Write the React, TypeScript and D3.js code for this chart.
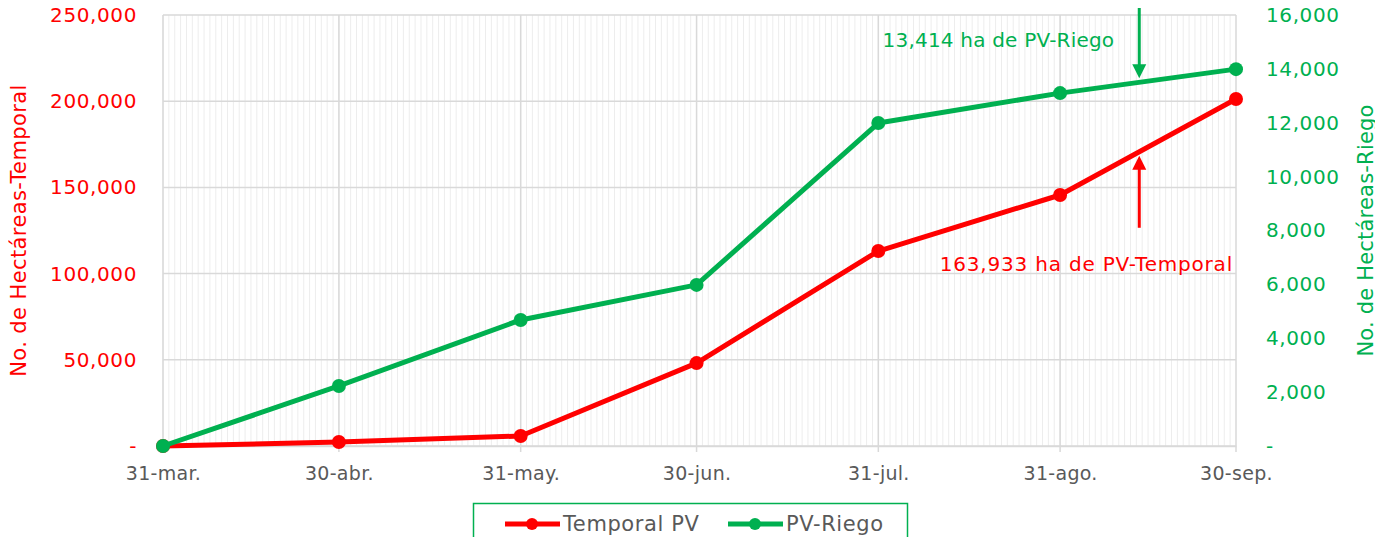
import { useRef, useEffect } from 'react'
import * as d3 from 'd3'

const W = 1383
const H = 545
const MARGIN = { top: 15, right: 147, bottom: 99, left: 163 }

const RED = '#ff0000'
const GREEN = '#00b050'
const GRAY_TEXT = '#595959'
const FONT = '"DejaVu Sans", sans-serif'

const DATES = ['2021-03-31', '2021-04-30', '2021-05-31', '2021-06-30', '2021-07-31', '2021-08-31', '2021-09-30']
const TICK_LABELS = ['31-mar.', '30-abr.', '31-may.', '30-jun.', '31-jul.', '31-ago.', '30-sep.']
const TEMPORAL = [0, 2300, 5800, 48100, 113100, 145600, 201300]
const RIEGO = [0, 2230, 4680, 5980, 11990, 13100, 13990]
const LEFT_TICKS = [0, 50000, 100000, 150000, 200000, 250000]
const RIGHT_TICKS = [0, 2000, 4000, 6000, 8000, 10000, 12000, 14000, 16000]
const SERIES_NAMES = ['Temporal PV', 'PV-Riego']
const NOTE_DATE = '2021-09-13'
const NOTE_RIEGO = '13,414 ha de PV-Riego'
const NOTE_TEMPORAL = '163,933 ha de PV-Temporal'

export default function App() {
  const svgRef = useRef<SVGSVGElement>(null)

  useEffect(() => {
    if (!svgRef.current) return
    const innerW = W - MARGIN.left - MARGIN.right
    const innerH = H - MARGIN.top - MARGIN.bottom
    const parse = d3.timeParse('%Y-%m-%d')
    const dates = DATES.map((d) => parse(d)!)

    const el = d3.select(svgRef.current)
    el.selectAll('*').remove()
    const svg = el.append('g').attr('transform', `translate(${MARGIN.left},${MARGIN.top})`)

    const x = d3.scaleTime().domain([dates[0], dates[dates.length - 1]]).range([0, innerW])
    const yL = d3.scaleLinear().domain([0, 250000]).range([innerH, 0])
    const yR = d3.scaleLinear().domain([0, 16000]).range([innerH, 0])

    // daily minor gridlines
    svg.append('g').selectAll('line')
      .data(d3.timeDay.range(dates[0], dates[dates.length - 1]))
      .join('line')
      .attr('x1', (d) => x(d)).attr('x2', (d) => x(d))
      .attr('y1', 0).attr('y2', innerH)
      .attr('stroke', '#ededed').attr('stroke-width', 1)

    // horizontal gridlines
    svg.append('g').selectAll('line')
      .data(LEFT_TICKS)
      .join('line')
      .attr('x1', 0).attr('x2', innerW)
      .attr('y1', (d) => yL(d)).attr('y2', (d) => yL(d))
      .attr('stroke', '#d9d9d9').attr('stroke-width', 1.5)

    // major vertical gridlines
    svg.append('g').selectAll('line')
      .data(dates)
      .join('line')
      .attr('x1', (d) => x(d)).attr('x2', (d) => x(d))
      .attr('y1', 0).attr('y2', innerH + 6)
      .attr('stroke', '#d9d9d9').attr('stroke-width', 1.5)

    // x axis
    svg.append('g')
      .attr('transform', `translate(0,${innerH})`)
      .call(d3.axisBottom(x).tickValues(dates).tickSize(0).tickPadding(21)
        .tickFormat((_, i) => TICK_LABELS[i]))
      .call((g) => {
        g.select('.domain').attr('stroke', '#d9d9d9').attr('stroke-width', 1.5)
        g.selectAll('text').attr('fill', GRAY_TEXT).attr('font-size', '19px').attr('font-family', FONT)
          .attr('letter-spacing', '0.3px')
      })

    // left axis
    svg.append('g')
      .call(d3.axisLeft(yL).tickValues(LEFT_TICKS).tickSize(0).tickPadding(26)
        .tickFormat((d) => (+d === 0 ? '-' : d3.format(',')(+d))))
      .call((g) => {
        g.select('.domain').remove()
        g.selectAll('text').attr('fill', RED).attr('font-size', '20px').attr('font-family', FONT)
          .attr('letter-spacing', '0.6px')
      })

    // right axis
    svg.append('g')
      .attr('transform', `translate(${innerW},0)`)
      .call(d3.axisRight(yR).tickValues(RIGHT_TICKS).tickSize(0).tickPadding(30)
        .tickFormat((d) => (+d === 0 ? '-' : d3.format(',')(+d))))
      .call((g) => {
        g.select('.domain').remove()
        g.selectAll('text').attr('fill', GREEN).attr('font-size', '20px').attr('font-family', FONT)
          .attr('letter-spacing', '0.6px')
      })

    // axis titles
    el.append('text')
      .attr('transform', `translate(26,${MARGIN.top + innerH / 2}) rotate(-90)`)
      .attr('text-anchor', 'middle').attr('fill', RED)
      .attr('font-size', '21px').attr('font-family', FONT).attr('letter-spacing', '0.4px')
      .text('No. de Hectáreas-Temporal')
    el.append('text')
      .attr('transform', `translate(1373,${MARGIN.top + innerH / 2}) rotate(-90)`)
      .attr('text-anchor', 'middle').attr('fill', GREEN)
      .attr('font-size', '21px').attr('font-family', FONT).attr('letter-spacing', '0.2px')
      .text('No. de Hectáreas-Riego')

    // lines
    const lineL = d3.line<number>().x((_, i) => x(dates[i])).y((d) => yL(d))
    const lineR = d3.line<number>().x((_, i) => x(dates[i])).y((d) => yR(d))

    svg.append('path').attr('d', lineL(TEMPORAL)).attr('fill', 'none')
      .attr('stroke', RED).attr('stroke-width', 5).attr('stroke-linejoin', 'round')
    svg.append('g').selectAll('circle').data(TEMPORAL).join('circle')
      .attr('cx', (_, i) => x(dates[i])).attr('cy', (d) => yL(d)).attr('r', 7).attr('fill', RED)

    svg.append('path').attr('d', lineR(RIEGO)).attr('fill', 'none')
      .attr('stroke', GREEN).attr('stroke-width', 5).attr('stroke-linejoin', 'round')
    svg.append('g').selectAll('circle').data(RIEGO).join('circle')
      .attr('cx', (_, i) => x(dates[i])).attr('cy', (d) => yR(d)).attr('r', 7).attr('fill', GREEN)

    // annotations (arrow sits half a day after NOTE_DATE)
    const nd = d3.timeHour.offset(parse(NOTE_DATE)!, 12)
    const nx = x(nd)
    const t = (nd.getTime() - dates[5].getTime()) / (dates[6].getTime() - dates[5].getTime())
    const riegoAt = yR(RIEGO[5] + (RIEGO[6] - RIEGO[5]) * t)
    const tempAt = yL(TEMPORAL[5] + (TEMPORAL[6] - TEMPORAL[5]) * t)

    const drawArrow = (x0: number, y0: number, y1: number, color: string) => {
      const dir = y1 > y0 ? 1 : -1
      svg.append('line').attr('x1', x0).attr('x2', x0).attr('y1', y0).attr('y2', y1 - dir * 12)
        .attr('stroke', color).attr('stroke-width', 3)
      svg.append('path')
        .attr('d', `M${x0 - 7},${y1 - dir * 14}L${x0 + 7},${y1 - dir * 14}L${x0},${y1}Z`)
        .attr('fill', color)
    }
    drawArrow(nx, -MARGIN.top, riegoAt - 4, GREEN)
    drawArrow(nx, tempAt + 76, tempAt + 4, RED)

    svg.append('text').attr('x', nx - 25).attr('y', 32).attr('text-anchor', 'end')
      .attr('fill', GREEN).attr('font-size', '20px').attr('font-family', FONT)
      .attr('letter-spacing', '0.2px').text(NOTE_RIEGO)
    svg.append('text').attr('x', innerW - 3).attr('y', 256).attr('text-anchor', 'end')
      .attr('fill', RED).attr('font-size', '20px').attr('font-family', FONT)
      .attr('letter-spacing', '0.8px').text(NOTE_TEMPORAL)

    // legend
    const lg = el.append('g').attr('transform', 'translate(473,503)')
    lg.append('rect').attr('x', 0.5).attr('y', 0.5).attr('width', 434).attr('height', 41)
      .attr('fill', 'white').attr('stroke', GREEN).attr('stroke-width', 1.5)
    const items = [
      { name: SERIES_NAMES[0], color: RED, x: 32 },
      { name: SERIES_NAMES[1], color: GREEN, x: 255 },
    ]
    items.forEach((it) => {
      lg.append('line').attr('x1', it.x).attr('x2', it.x + 55).attr('y1', 21).attr('y2', 21)
        .attr('stroke', it.color).attr('stroke-width', 5)
      lg.append('circle').attr('cx', it.x + 27).attr('cy', 21).attr('r', 6).attr('fill', it.color)
      lg.append('text').attr('x', it.x + 58).attr('y', 28).attr('fill', GRAY_TEXT)
        .attr('font-size', '21px').attr('font-family', FONT).attr('letter-spacing', '0.6px').text(it.name)
    })
  }, [])

  return (
    <div style={{ margin: -8 }}>
      <svg ref={svgRef} width={W} height={H} style={{ display: 'block', background: 'white' }} />
    </div>
  )
}
